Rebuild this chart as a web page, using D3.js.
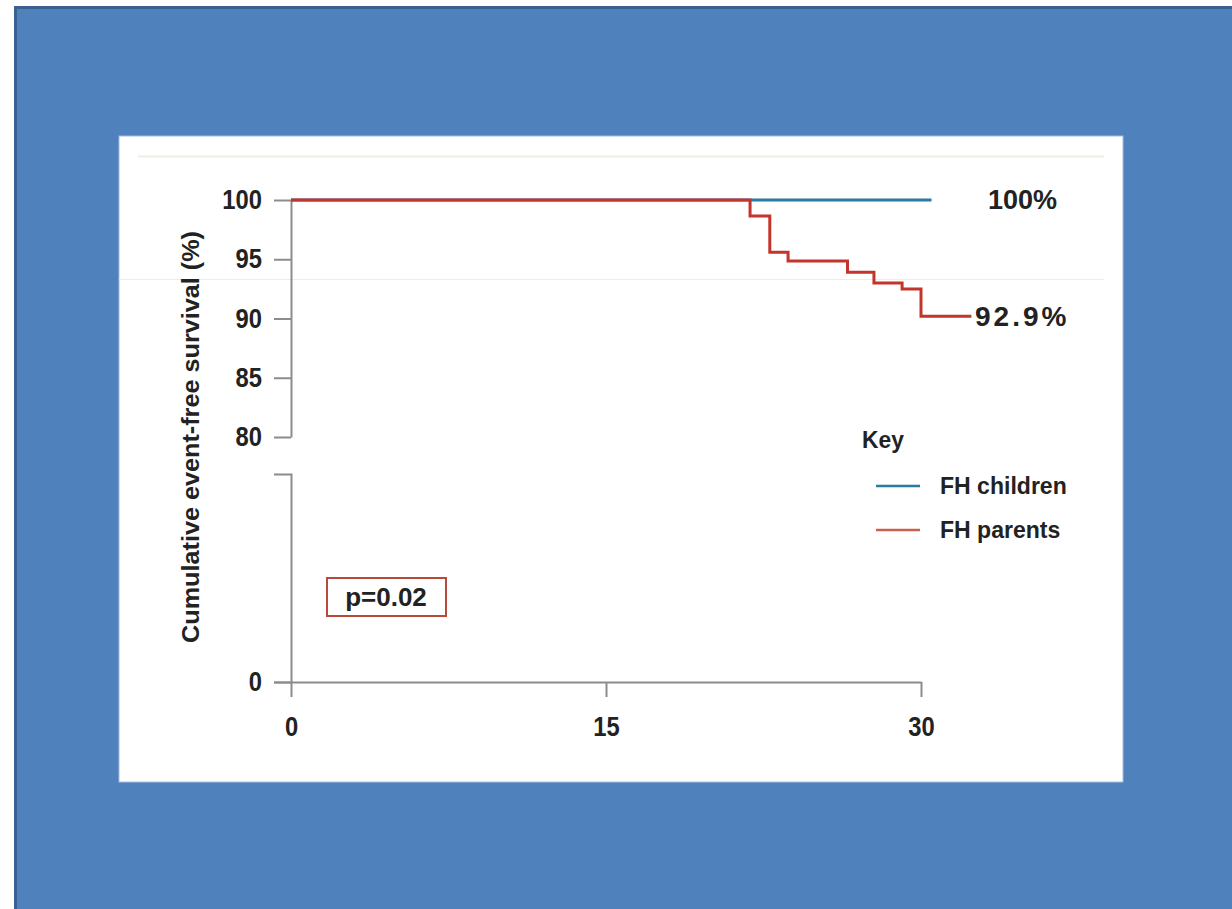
<!DOCTYPE html>
<html>
<head>
<meta charset="utf-8">
<script src="https://cdn.jsdelivr.net/npm/d3@7"></script>
<style>
  body { margin: 0; background: #fff; }
  svg text { font-family: "Liberation Sans", Arial, sans-serif; font-weight: bold; fill: #222; }
</style>
</head>
<body>
<div id="chart"></div>
<script>
// Kaplan-Meier steps (time in years, survival in %)
const childTimes = [0, 30.5];
const childSurvival = [100, 100];
const parentTimes = [0, 21.86, 22.8, 23.67, 26.5, 27.76, 29.1, 30.0, 32.4];
const parentSurvival = [100, 98.65, 95.6, 94.85, 93.9, 93.0, 92.5, 90.2, 90.2];
const xTicks = [0, 15, 30];
const yTicksUpper = [80, 85, 90, 95, 100];
const yTicksLower = [0];
const seriesNames = ["FH children", "FH parents"];
const endLabels = ["100%", "92.9%"];
const pValue = "p=0.02";

const W = 1232, H = 909;
const colors = {children: "#2b7aa3", parents: "#c2342c"};

// no narrow font installed, so squeeze Liberation Sans Bold horizontally
function condense(sel, k) {
    sel.each(function() {
        const len = this.getComputedTextLength();
        d3.select(this).attr("textLength", len * k).attr("lengthAdjust", "spacingAndGlyphs");
    });
}

const svg = d3.select("#chart").append("svg")
    .attr("width", W)
    .attr("height", H);

// slide background
svg.append("rect").attr("x", 14).attr("y", 6).attr("width", W - 14).attr("height", H - 6)
    .attr("fill", "#4f81bd");
svg.append("path").attr("d", `M15.5,${H} V7.5 H${W}`)
    .attr("fill", "none").attr("stroke", "#3a6291").attr("stroke-width", 3);

// the pasted figure
svg.append("rect").attr("x", 119).attr("y", 136).attr("width", 1004).attr("height", 646)
    .attr("fill", "#fff").attr("stroke", "#a8bedb").attr("stroke-width", 1);
svg.append("line").attr("x1", 138).attr("x2", 1104).attr("y1", 156.5).attr("y2", 156.5)
    .attr("stroke", "#efeee6").attr("stroke-width", 2);
svg.append("line").attr("x1", 119).attr("x2", 1104).attr("y1", 279.5).attr("y2", 279.5)
    .attr("stroke", "#ececec").attr("stroke-width", 1);

const x = d3.scaleLinear().domain([0, 30]).range([291, 921]);
const yUpper = d3.scaleLinear().domain([80, 100]).range([437, 200]);
const yLower = d3.scaleLinear().domain([0, 80]).range([682, 474]);

const axisColor = "#8c8c8c";
function styleAxis(g) {
    g.selectAll("path, line").attr("stroke", axisColor).attr("stroke-width", 2);
    g.selectAll("text").attr("font-size", 27).attr("fill", "#222")
        .attr("font-family", null)
        .call(condense, 0.88);
}

svg.append("g")
    .call(d3.axisLeft(yUpper).tickValues(yTicksUpper).tickSize(17).tickSizeOuter(0).tickPadding(12))
    .attr("transform", "translate(291,0)")
    .call(styleAxis);

svg.append("g")
    .call(d3.axisLeft(yLower).tickValues(yTicksLower).tickSize(17).tickSizeOuter(17).tickPadding(12))
    .attr("transform", "translate(291,0)")
    .call(styleAxis);

svg.append("g")
    .attr("transform", "translate(0,682)")
    .call(d3.axisBottom(x).tickValues(xTicks).tickSize(15).tickSizeOuter(0).tickPadding(20))
    .call(styleAxis);

svg.append("text")
    .attr("transform", "translate(199,437) rotate(-90)")
    .attr("text-anchor", "middle")
    .attr("font-size", 24)
    .attr("textLength", 412)
    .attr("lengthAdjust", "spacingAndGlyphs")
    .text("Cumulative event-free survival (%)");

// survival curves
const line = d3.line()
    .x(d => x(d[0]))
    .y(d => yUpper(d[1]))
    .curve(d3.curveStepAfter);

svg.append("path")
    .datum(d3.zip(childTimes, childSurvival))
    .attr("d", line)
    .attr("fill", "none")
    .attr("stroke", colors.children)
    .attr("stroke-width", 3);

svg.append("path")
    .datum(d3.zip(parentTimes, parentSurvival))
    .attr("d", line)
    .attr("fill", "none")
    .attr("stroke", colors.parents)
    .attr("stroke-width", 3);

// end labels
svg.append("text")
    .attr("x", 988).attr("y", yUpper(childSurvival[childSurvival.length - 1]))
    .attr("dy", "0.35em")
    .attr("font-size", 27)
    .text(endLabels[0]);
svg.append("text")
    .attr("x", 975).attr("y", yUpper(parentSurvival[parentSurvival.length - 1]))
    .attr("dy", "0.35em")
    .attr("font-size", 28)
    .attr("letter-spacing", 3)
    .text(endLabels[1]);

// key
const key = svg.append("g").attr("transform", "translate(862,440)");
key.append("text").attr("x", 0).attr("y", 0).attr("dy", "0.35em")
    .attr("font-size", 24).text("Key")
    .call(condense, 0.95);
const keyColors = [colors.children, "#c9604c"];
seriesNames.forEach((name, i) => {
    const yy = 46 + i * 44;
    key.append("line")
        .attr("x1", 14).attr("x2", 58).attr("y1", yy).attr("y2", yy)
        .attr("stroke", keyColors[i]).attr("stroke-width", 2.5);
    key.append("text").attr("x", 78).attr("y", yy).attr("dy", "0.35em")
        .attr("font-size", 24).text(name)
        .call(condense, 0.96);
});

// p-value box
svg.append("rect")
    .attr("x", 327).attr("y", 578).attr("width", 119).attr("height", 38)
    .attr("fill", "#fff").attr("stroke", "#b64a3b").attr("stroke-width", 2);
svg.append("text")
    .attr("x", 386).attr("y", 597).attr("dy", "0.35em")
    .attr("text-anchor", "middle")
    .attr("font-size", 26)
    .text(pValue);
</script>
</body>
</html>
